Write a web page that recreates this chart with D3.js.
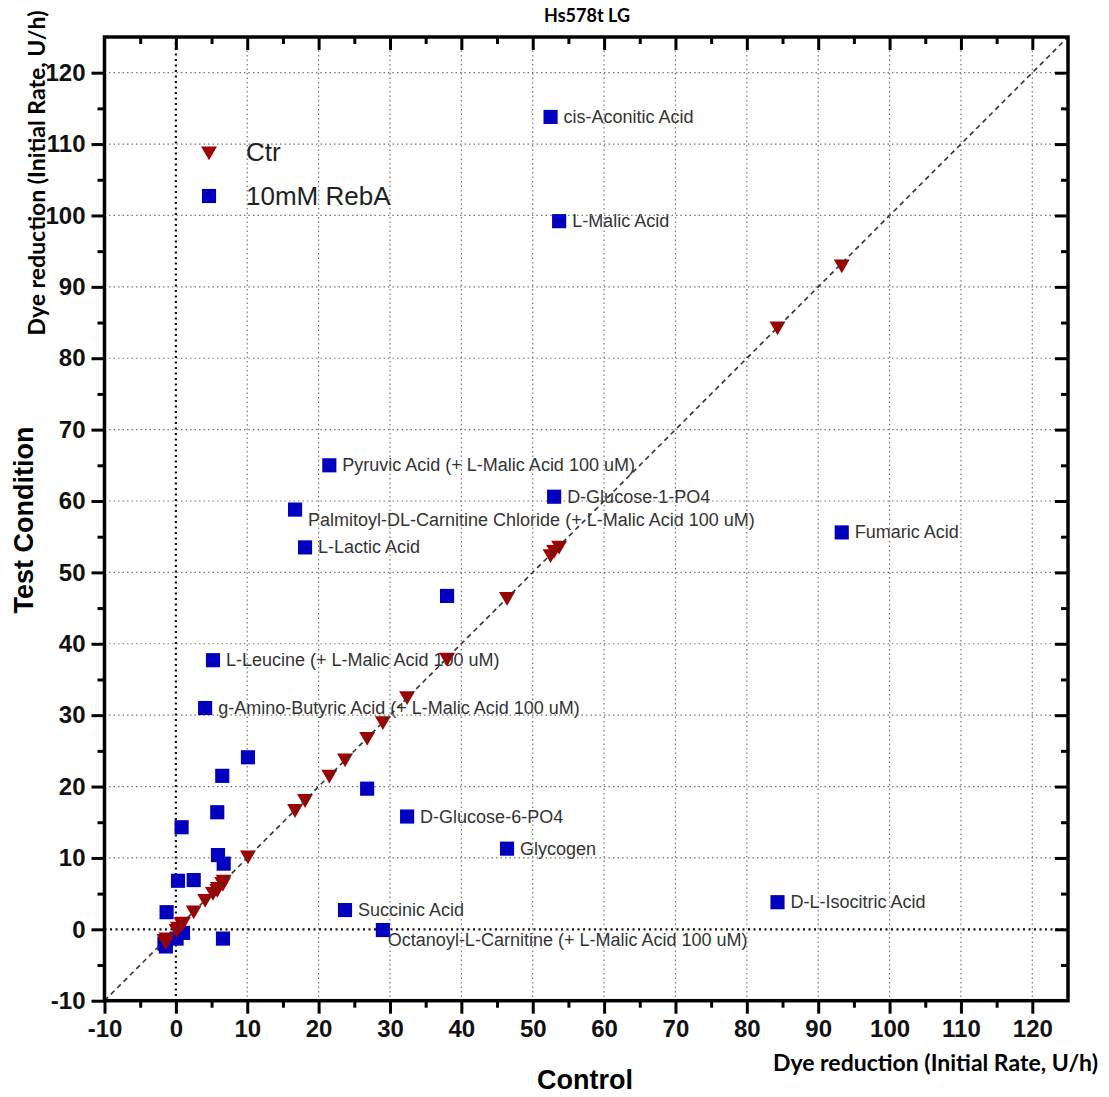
<!DOCTYPE html>
<html>
<head>
<meta charset="utf-8">
<script src="https://cdn.jsdelivr.net/npm/d3@7"></script>
<style>
	body { margin: 0; background: #fff; }
	svg { display: block; }
	.tick-label text { font-family: "Liberation Sans", Arial, sans-serif; font-weight: bold; font-size: 24px; fill: #111; }
	.point-label { font-family: "Liberation Sans", Arial, sans-serif; font-size: 18px; fill: #333; }
	.legend-label { font-family: "Liberation Sans", Arial, sans-serif; font-size: 26px; fill: #222; }
</style>
</head>
<body>
<div id="chart"></div>
<script>
// control (x), Ctr (y, triangles) and 10mM RebA (y, squares) per substrate
var control = [52.5, 53.7, 53.0, 93.3, 84.3, 46.4, 38.0, 32.4, 29.0, 26.8,
	23.7, 21.5, 18.1, 16.7, 10.1, 6.5, 6.6, 6.7, 5.9, 5.8,
	5.2, 4.1, 2.5, 0.8, 0.3, 1.0, 0.1, -1.3, -1.4, -1.6];
var ctr = [52.6, 53.8, 53.2, 93.2, 84.5, 46.6, 38.1, 32.7, 29.2, 27.0,
	24.0, 21.7, 18.3, 16.9, 10.4, 6.7, 6.6, 7.0, 6.0, 5.7,
	5.3, 4.3, 2.7, 1.0, 0.4, 1.1, 0.1, -1.1, -1.6, -1.3];
var rebA = [113.8, 99.2, 60.6, 55.6, 3.8, 11.3, 46.7, 15.8, -0.1, 19.7,
	2.7, 65.0, 53.5, 58.8, 24.1, 21.5, -1.3, 9.2, 10.4, 16.4,
	37.7, 31.0, 6.9, 14.3, 6.8, -0.5, -1.3, 2.4, -2.4, -2.0];
var substrates = ['cis-Aconitic Acid', 'L-Malic Acid', 'D-Glucose-1-PO4', 'Fumaric Acid',
	'D-L-Isocitric Acid', 'Glycogen', '', 'D-Glucose-6-PO4',
	'Octanoyl-L-Carnitine (+ L-Malic Acid 100 uM)', '', 'Succinic Acid',
	'Pyruvic Acid (+ L-Malic Acid 100 uM)', 'L-Lactic Acid',
	'Palmitoyl-DL-Carnitine Chloride (+ L-Malic Acid 100 uM)', '', '', '', '', '', '',
	'L-Leucine (+ L-Malic Acid 100 uM)', 'g-Amino-Butyric Acid (+ L-Malic Acid 100 uM)',
	'', '', '', '', '', '', '', ''];
var majorTicks = [-10, 0, 10, 20, 30, 40, 50, 60, 70, 80, 90, 100, 110, 120];
var minorTicks = [-5, 5, 15, 25, 35, 45, 55, 65, 75, 85, 95, 105, 115];
var axisDomain = [-10, 125];
var series = ['Ctr', '10mM RebA'];

// labels that sit under their square instead of beside it
var labelsBelow = {
	'Palmitoyl-DL-Carnitine Chloride (+ L-Malic Acid 100 uM)': [13, 16],
	'Octanoyl-L-Carnitine (+ L-Malic Acid 100 uM)': [5, 16]
};

var width = 1109, height = 1097,
	plot = { left: 104.5, right: 1068, top: 37, bottom: 1000.7 },
	blue = '#0000be', red = '#a00000';

var svg = d3.select('#chart').append('svg')
	.attr('width', width)
	.attr('height', height);

var x = d3.scaleLinear().domain(axisDomain).range([plot.left, plot.right]);
var y = d3.scaleLinear().domain(axisDomain).range([plot.bottom, plot.top]);

var points = control.map(function(c, i) {
	return { control: c, ctr: ctr[i], rebA: rebA[i], name: substrates[i] };
});

// labels (drawn under the grid, like the original)
var labels = svg.append('g');
points.filter(function(d) { return d.name; }).forEach(function(d) {
	var off = labelsBelow[d.name] || [13, 6];
	labels.append('text')
		.attr('class', 'point-label')
		.attr('x', x(d.control) + off[0])
		.attr('y', y(d.rebA) + off[1])
		.text(d.name);
});

// grid
var grid = svg.append('g');
majorTicks.filter(function(t) { return t > -10 && t !== 0; }).forEach(function(t) {
	grid.append('line')
		.attr('x1', x(t)).attr('x2', x(t))
		.attr('y1', plot.top).attr('y2', plot.bottom)
		.attr('stroke', '#777').attr('stroke-width', 1.2)
		.attr('stroke-dasharray', '1.5,3');
	grid.append('line')
		.attr('x1', plot.left).attr('x2', plot.right)
		.attr('y1', y(t)).attr('y2', y(t))
		.attr('stroke', '#777').attr('stroke-width', 1.2)
		.attr('stroke-dasharray', '1.5,3');
});
grid.append('line')
	.attr('x1', x(0)).attr('x2', x(0))
	.attr('y1', plot.top).attr('y2', plot.bottom)
	.attr('stroke', '#111').attr('stroke-width', 2.2)
	.attr('stroke-dasharray', '2,3.5');
grid.append('line')
	.attr('x1', plot.left).attr('x2', plot.right)
	.attr('y1', y(0)).attr('y2', y(0))
	.attr('stroke', '#111').attr('stroke-width', 2.2)
	.attr('stroke-dasharray', '2,3.5');

// markers
var square = d3.symbol().type(d3.symbolSquare).size(200),
	triangle = d3.symbol().type(d3.symbolTriangle).size(110);

svg.append('g').selectAll('path')
	.data(points)
	.enter()
	.append('path')
	.attr('d', square)
	.attr('transform', function(d) { return 'translate(' + x(d.control) + ',' + y(d.rebA) + ')'; })
	.attr('fill', blue);

svg.append('g').selectAll('path')
	.data(points)
	.enter()
	.append('path')
	.attr('d', triangle)
	.attr('transform', function(d) { return 'translate(' + x(d.control) + ',' + y(d.ctr) + ') rotate(180)'; })
	.attr('fill', red);

// identity line
svg.append('line')
	.attr('x1', x(axisDomain[0])).attr('y1', y(axisDomain[0]))
	.attr('x2', x(axisDomain[1])).attr('y2', y(axisDomain[1]))
	.attr('stroke', '#333').attr('stroke-width', 1.6)
	.attr('stroke-dasharray', '5,4');

// axes
function drawAxis(axis, transform, values, size, withLabels) {
	var g = svg.append('g')
		.attr('class', 'tick-label')
		.attr('transform', transform)
		.call(axis.tickValues(values).tickSize(size).tickSizeOuter(0).tickPadding(6)
			.tickFormat(withLabels ? function(d) { return String(d); } : ''));
	g.select('.domain').remove();
	g.selectAll('line').attr('stroke', '#000').attr('stroke-width', 3);
	return g;
}
var bottomT = 'translate(0,' + plot.bottom + ')', leftT = 'translate(' + plot.left + ',0)',
	topT = 'translate(0,' + plot.top + ')', rightT = 'translate(' + plot.right + ',0)';

drawAxis(d3.axisBottom(x), bottomT, majorTicks, 13, true);
drawAxis(d3.axisBottom(x), bottomT, minorTicks, 7, false);
drawAxis(d3.axisLeft(y), leftT, majorTicks, 13, true);
drawAxis(d3.axisLeft(y), leftT, minorTicks, 7, false);
drawAxis(d3.axisTop(x), topT, majorTicks.slice(1), -13, false);
drawAxis(d3.axisTop(x), topT, minorTicks, -7, false);
drawAxis(d3.axisRight(y), rightT, majorTicks.slice(1), -13, false);
drawAxis(d3.axisRight(y), rightT, minorTicks, -7, false);

svg.append('rect')
	.attr('x', plot.left).attr('y', plot.top)
	.attr('width', plot.right - plot.left)
	.attr('height', plot.bottom - plot.top)
	.attr('fill', 'none')
	.attr('stroke', '#000')
	.attr('stroke-width', 3.5);

// legend
var legend = svg.append('g');
legend.append('path')
	.attr('d', triangle)
	.attr('transform', 'translate(209,151) rotate(180)')
	.attr('fill', red);
legend.append('path')
	.attr('d', square)
	.attr('transform', 'translate(209,196)')
	.attr('fill', blue);
series.forEach(function(s, i) {
	legend.append('text')
		.attr('class', 'legend-label')
		.attr('x', 246)
		.attr('y', 161 + i * 44)
		.text(s);
});

// titles
svg.append('text')
	.attr('x', 587).attr('y', 22)
	.attr('text-anchor', 'middle')
	.style('font-family', 'Lato, "Open Sans", sans-serif')
	.style('font-weight', 'bold')
	.style('font-size', '18px')
	.text('Hs578t LG');

svg.append('text')
	.attr('x', 585).attr('y', 1089)
	.attr('text-anchor', 'middle')
	.style('font-family', '"Liberation Sans", Arial, sans-serif')
	.style('font-weight', 'bold')
	.style('font-size', '27px')
	.text('Control');

svg.append('text')
	.attr('transform', 'translate(33,520) rotate(-90)')
	.attr('text-anchor', 'middle')
	.style('font-family', '"Liberation Sans", Arial, sans-serif')
	.style('font-weight', 'bold')
	.style('font-size', '27px')
	.text('Test Condition');

svg.append('text')
	.attr('x', 1098).attr('y', 1071)
	.attr('text-anchor', 'end')
	.style('font-family', 'Lato, "Open Sans", sans-serif')
	.style('font-weight', 'bold')
	.style('font-size', '23px')
	.text('Dye reduction (Initial Rate, U/h)');

svg.append('text')
	.attr('transform', 'translate(45,173) rotate(-90)')
	.attr('text-anchor', 'middle')
	.style('font-family', 'Lato, "Open Sans", sans-serif')
	.style('font-weight', 'bold')
	.style('font-size', '23px')
	.text('Dye reduction (Initial Rate, U/h)');
</script>
</body>
</html>
